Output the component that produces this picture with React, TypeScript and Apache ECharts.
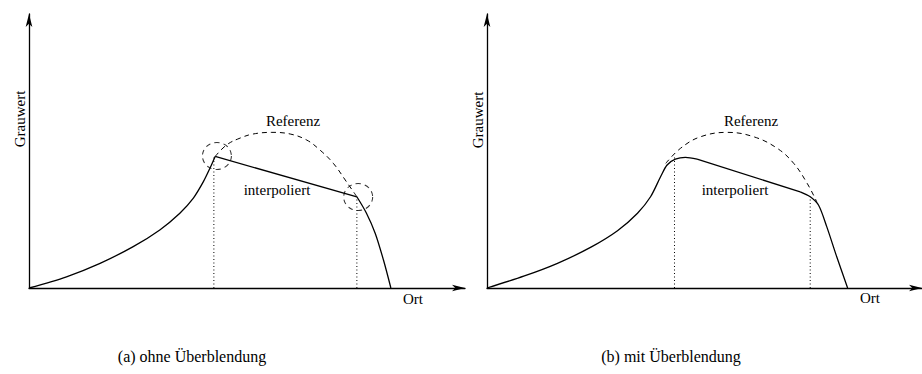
import React, { useEffect, useRef } from "react";
import * as echarts from "echarts";

// Profile sketches: grey value over position, (a) hard interpolation, (b) blended.
// Units: x 0..100 along "Ort", y 0..100 along "Grauwert".

// Panel (a) – ohne Überblendung
const riseA: [number, number][] = [
  [0, 0], [8.6, 4.1], [16.3, 9.0], [23.9, 15.1], [30.0, 21.2], [34.6, 27.3],
  [37.7, 32.8], [40.0, 38.8], [41.5, 43.7], [42.7, 48.0],
];
const interpA: [number, number][] = [[42.7, 48.0], [75.2, 33.3]];
const fallA: [number, number][] = [
  [75.2, 33.3], [77.4, 27.3], [79.4, 20.0], [81.3, 10.2], [83.0, 0],
];
const refA: [number, number][] = [
  [42.7, 48.0], [45.3, 52.2], [48.4, 54.7], [51.4, 56.2], [55.7, 56.8],
  [59.9, 56.2], [63.7, 54.0], [66.7, 50.4], [69.8, 45.5], [72.8, 38.8], [75.2, 33.3],
];
const guidesA: [number, number][][] = [
  [[42.4, 0], [42.4, 48.0]],
  [[75.2, 0], [75.2, 33.3]],
];
const jointsA: [number, number][] = [[43.1, 48.2], [75.5, 33.2]];

// Panel (b) – mit Überblendung
const riseB: [number, number][] = [
  [0, 0], [8.6, 4.4], [16.2, 9.0], [23.9, 14.9], [30.0, 20.9], [34.6, 27.3],
  [37.6, 33.3], [39.9, 40.6], [41.4, 44.9], [43.3, 47.0], [45.6, 47.7], [48.3, 47.0],
];
const interpB: [number, number][] = [[48.3, 47.0], [72.0, 35.1]];
const fallB: [number, number][] = [
  [72.0, 35.1], [74.3, 33.3], [76.2, 30.3], [78.1, 22.4], [80.4, 11.4], [82.9, 0],
];
const refB: [number, number][] = [
  [41.1, 45.5], [44.5, 51.0], [49.1, 55.2], [55.2, 56.8], [61.3, 55.2],
  [66.7, 51.0], [70.5, 45.5], [73.6, 38.2], [75.8, 31.5],
];
const guidesB: [number, number][][] = [
  [[43.1, 0], [43.1, 47.7]],
  [[74.3, 0], [74.3, 33.3]],
];

const xAxisTitle = "Ort";
const yAxisTitle = "Grauwert";
const refLabel = "Referenz";
const interpLabel = "interpoliert";
const captions = ["(a) ohne Überblendung", "(b) mit Überblendung"];

const FONT = "'Liberation Serif', 'Times New Roman', serif";
const INK = "#000";

function axisPair(gridIndex: number) {
  const line = {
    show: true,
    symbol: ["none", "arrow"],
    symbolSize: [5, 13],
    lineStyle: { color: INK, width: 1.3 },
  };
  const common = {
    type: "value" as const,
    gridIndex,
    min: 0,
    max: 100,
    axisLine: line,
    axisTick: { show: false },
    axisLabel: { show: false },
    splitLine: { show: false },
  };
  return { x: { ...common }, y: { ...common } };
}

function solid(data: [number, number][], idx: number, smooth: number | boolean) {
  return {
    type: "line",
    xAxisIndex: idx,
    yAxisIndex: idx,
    data,
    smooth,
    symbol: "none",
    lineStyle: { color: INK, width: 1.3 },
    z: 3,
  };
}

function dashed(data: [number, number][], idx: number) {
  return {
    type: "line",
    xAxisIndex: idx,
    yAxisIndex: idx,
    data,
    smooth: 0.4,
    symbol: "none",
    lineStyle: { color: INK, width: 1, type: [5, 4] },
    z: 2,
  };
}

function dotted(data: [number, number][], idx: number) {
  return {
    type: "line",
    xAxisIndex: idx,
    yAxisIndex: idx,
    data,
    symbol: "none",
    lineStyle: { color: INK, width: 1, type: [1, 2.5] },
    z: 1,
  };
}

function text(x: number, y: number, s: string, size: number, rotation = 0) {
  return {
    type: "text",
    x,
    y,
    rotation,
    style: {
      text: s,
      font: `${size}px ${FONT}`,
      fill: INK,
      textAlign: "center",
      textVerticalAlign: "middle",
    },
  };
}

export default function App() {
  const ref = useRef<HTMLDivElement>(null);

  useEffect(() => {
    if (!ref.current) return;
    const chart = echarts.init(ref.current, undefined, { renderer: "svg" });
    const a = axisPair(0);
    const b = axisPair(1);

    chart.setOption({
      animation: false,
      backgroundColor: "#fff",
      grid: [
        { left: 29, top: 14, width: 436, height: 274 },
        { left: 487, top: 14, width: 436, height: 274 },
      ],
      xAxis: [a.x, b.x],
      yAxis: [a.y, b.y],
      series: [
        solid(riseA, 0, 0.3),
        solid(interpA, 0, false),
        solid(fallA, 0, 0.3),
        dashed(refA, 0),
        ...guidesA.map((g) => dotted(g, 0)),
        {
          type: "scatter",
          xAxisIndex: 0,
          yAxisIndex: 0,
          data: jointsA,
          symbol: "circle",
          symbolSize: [29, 27],
          itemStyle: {
            color: "rgba(0,0,0,0)",
            borderColor: INK,
            borderWidth: 1,
            borderType: [5, 4],
          },
          z: 4,
        },
        solid(riseB, 1, 0.3),
        solid(interpB, 1, false),
        solid(fallB, 1, 0.3),
        dashed(refB, 1),
        ...guidesB.map((g) => dotted(g, 1)),
      ],
      graphic: [
        text(20, 119, yAxisTitle, 15, Math.PI / 2),
        text(293, 121, refLabel, 15),
        text(277, 190, interpLabel, 15),
        text(413, 299, xAxisTitle, 15),
        text(478, 120, yAxisTitle, 15, Math.PI / 2),
        text(751, 121, refLabel, 15),
        text(735, 190, interpLabel, 15),
        text(870, 298, xAxisTitle, 15),
        text(192, 356, captions[0], 16),
        text(671, 356, captions[1], 16),
      ],
    });

    return () => chart.dispose();
  }, []);

  return (
    <div
      ref={ref}
      style={{ position: "fixed", left: 0, top: 0, width: 922, height: 374 }}
    />
  );
}
